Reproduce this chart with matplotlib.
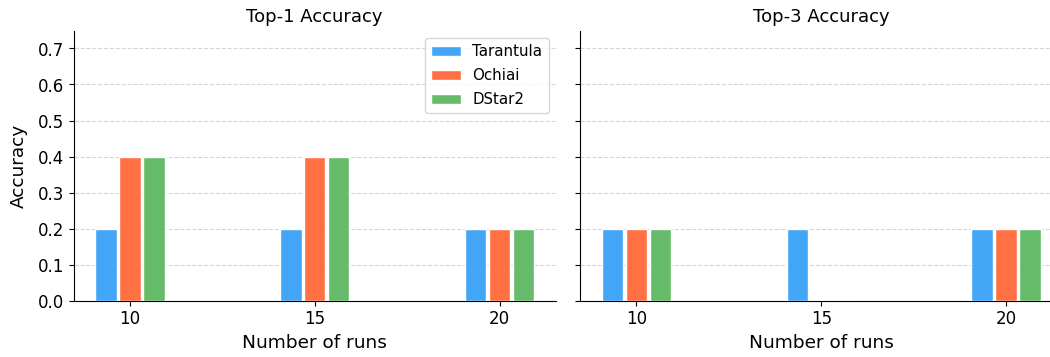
import matplotlib
matplotlib.use("Agg")
import matplotlib.pyplot as plt
import numpy as np

runs = [10, 15, 20]
methods = ["Tarantula", "Ochiai", "DStar2"]
colors = ["#42A5F5", "#FF7043", "#66BB6A"]

top1 = {
    "Tarantula": [0.2, 0.2, 0.2],
    "Ochiai": [0.4, 0.4, 0.2],
    "DStar2": [0.4, 0.4, 0.2],
}
top3 = {
    "Tarantula": [0.2, 0.2, 0.2],
    "Ochiai": [0.2, 0.0, 0.2],
    "DStar2": [0.2, 0.0, 0.2],
}
titles = ["Top-1 Accuracy", "Top-3 Accuracy"]

W, H = 1050, 357
fig = plt.figure(figsize=(W / 100, H / 100), dpi=100)
ax_w, ax_h = 482.5 / W, 270 / H
bottom = 56.5 / H
ax1 = fig.add_axes([73.5 / W, bottom, ax_w, ax_h])
ax2 = fig.add_axes([580 / W, bottom, ax_w, ax_h], sharey=ax1)
axes = [ax1, ax2]

bar_w = 0.58
step = 0.645
x = np.array(runs, dtype=float)
for ax, data, title in zip(axes, [top1, top3], titles):
    for i, (m, c) in enumerate(zip(methods, colors)):
        ax.bar(x + (i - 1) * step, data[m], bar_w, color=c, edgecolor="white",
               linewidth=1.0, label=m, zorder=3)
    ax.set_xticks(runs)
    ax.set_xticklabels([str(r) for r in runs])
    ax.set_title(title, fontsize=13)
    ax.set_xlabel("Number of runs", fontsize=13.3)
    ax.set_ylim(0, 0.75)
    ax.set_yticks(np.arange(0, 0.71, 0.1))
    ax.grid(axis="y", linestyle="--", color="#cccccc", alpha=0.8, zorder=0)
    ax.spines["top"].set_visible(False)
    ax.spines["right"].set_visible(False)
    ax.tick_params(labelsize=12)

ax2.tick_params(labelleft=False)
ax1.set_ylabel("Accuracy", fontsize=13.3, labelpad=7)
ax1.legend(loc="upper right", fontsize=10.8, handlelength=2.0, labelspacing=0.6)

fig.savefig("out.png", dpi=100)
